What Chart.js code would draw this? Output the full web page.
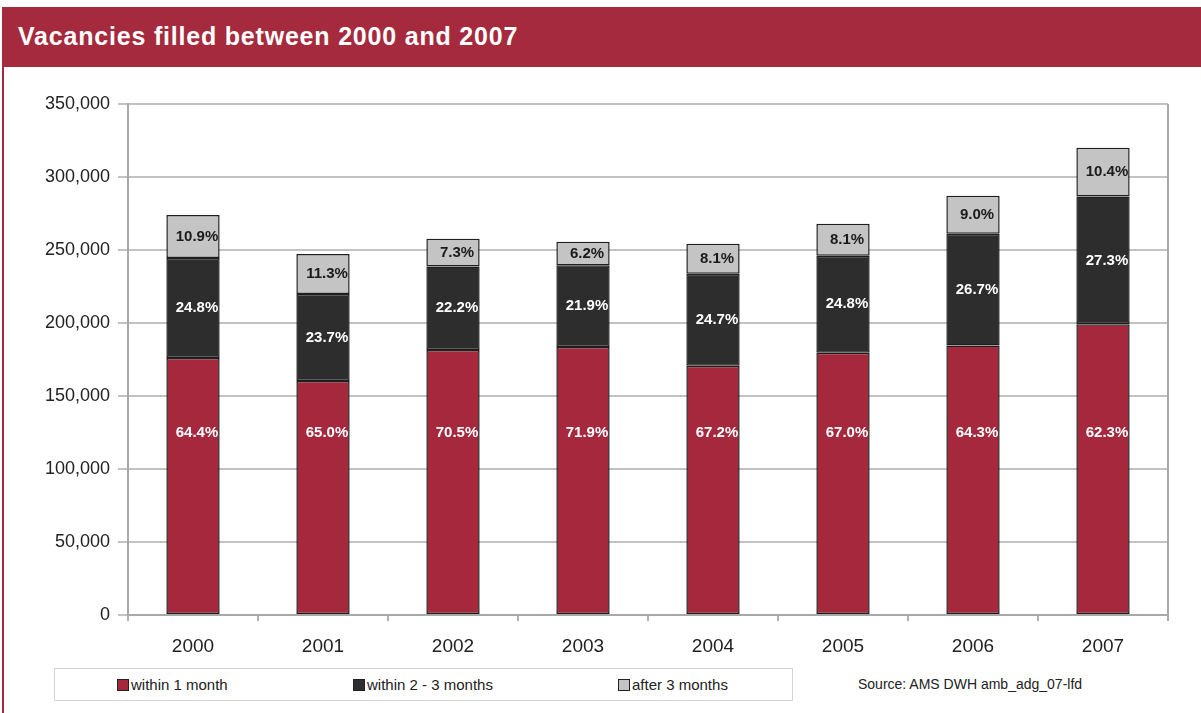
<!DOCTYPE html>
<html>
<head>
<meta charset="utf-8">
<script src="https://cdn.jsdelivr.net/npm/chart.js@4.4.1/dist/chart.umd.min.js"></script>
<style>
    body { margin: 0; width: 1201px; height: 713px; background: #fff; position: relative; overflow: hidden; font-family: "Liberation Sans", Arial, sans-serif; }
    #header { position: absolute; left: 2px; top: 7px; width: 1199px; height: 60px; background: #a52a3e; color: #fff; font-weight: bold; font-size: 25px; letter-spacing: 0.8px; line-height: 58px; padding-left: 16px; box-sizing: border-box; }
    #leftLine { position: absolute; left: 2px; top: 67px; width: 2px; height: 646px; background: #a52a3e; }
    #chartBox { position: absolute; left: 0; top: 66px; width: 1201px; height: 600px; }
    #legend { position: absolute; left: 54px; top: 668px; width: 739px; height: 33px; border: 1px solid #d4d4d4; box-sizing: border-box; font-size: 15px; color: #222; }
    .item { position: absolute; top: 0; line-height: 31px; white-space: nowrap; }
    .swatch { display: inline-block; width: 10px; height: 10px; border: 1px solid #222; margin-right: 2px; vertical-align: -1px; }
    #source { position: absolute; left: 858px; top: 676px; font-size: 14px; color: #222; }
</style>
</head>
<body>
<div id="header">Vacancies filled between 2000 and 2007</div>
<div id="leftLine"></div>
<div id="chartBox"><canvas id="vacancyChart"></canvas></div>
<div id="legend"></div>
<div id="source">Source: AMS DWH amb_adg_07-lfd</div>

<script>
// Chart data
const years = ['2000', '2001', '2002', '2003', '2004', '2005', '2006', '2007'];
const seriesNames = ['within 1 month', 'within 2 - 3 months', 'after 3 months'];
const within1Month = [176000, 160300, 181500, 183600, 170700, 179600, 184600, 199200];
const within2to3Months = [68500, 59600, 57200, 56000, 63000, 66500, 76600, 87400];
const after3Months = [29500, 27400, 19000, 16000, 20600, 21900, 25900, 33400];
const within1MonthPct = ['64.4%', '65.0%', '70.5%', '71.9%', '67.2%', '67.0%', '64.3%', '62.3%'];
const within2to3MonthsPct = ['24.8%', '23.7%', '22.2%', '21.9%', '24.7%', '24.8%', '26.7%', '27.3%'];
const after3MonthsPct = ['10.9%', '11.3%', '7.3%', '6.2%', '8.1%', '8.1%', '9.0%', '10.4%'];
const yTicks = [0, 50000, 100000, 150000, 200000, 250000, 300000, 350000];

const seriesColors = ['#a5283d', '#2d2d2d', '#c4c4c4'];
const labelColors = ['#ffffff', '#ffffff', '#1a1a1a'];
const pctLabels = [within1MonthPct, within2to3MonthsPct, after3MonthsPct];
const baseLabelValue = 125000; // red segment labels sit at this height

// Build the legend from the series
const legendX = [62, 298, 563];
const legendEl = document.getElementById('legend');
seriesNames.forEach((name, i) => {
    const item = document.createElement('div');
    item.className = 'item';
    item.style.left = legendX[i] + 'px';
    item.innerHTML = '<span class="swatch" style="background:' + seriesColors[i] + '"></span>' + name;
    legendEl.appendChild(item);
});

// Percentage labels inside the bars
const pctLabelPlugin = {
    id: 'pctLabels',
    afterDatasetsDraw(chart) {
        const ctx = chart.ctx;
        const yScale = chart.scales.y;
        ctx.save();
        ctx.font = 'bold 15px "Liberation Sans", Arial, sans-serif';
        ctx.textAlign = 'center';
        ctx.textBaseline = 'middle';
        chart.data.datasets.forEach((ds, i) => {
            const meta = chart.getDatasetMeta(i);
            meta.data.forEach((bar, j) => {
                const y = i === 0 ? yScale.getPixelForValue(baseLabelValue) : (bar.y + bar.base) / 2;
                ctx.fillStyle = labelColors[i];
                ctx.fillText(pctLabels[i][j], bar.x + 4, y);
            });
        });
        ctx.restore();
    }
};

// Right edge of the plot frame
const rightFramePlugin = {
    id: 'rightFrame',
    afterDraw(chart) {
        const a = chart.chartArea;
        const ctx = chart.ctx;
        ctx.save();
        ctx.strokeStyle = '#a8a8a8';
        ctx.lineWidth = 2;
        ctx.beginPath();
        ctx.moveTo(a.right, a.top);
        ctx.lineTo(a.right, a.bottom + 6);
        ctx.stroke();
        ctx.restore();
    }
};

const datasets = [within1Month, within2to3Months, after3Months].map((values, i) => ({
    label: seriesNames[i],
    data: values,
    backgroundColor: seriesColors[i],
    borderColor: '#1e1e1e',
    borderWidth: 1.5,
    borderSkipped: false,
    barPercentage: 0.41,
    categoryPercentage: 1
}));

const ctx = document.getElementById('vacancyChart').getContext('2d');
new Chart(ctx, {
    type: 'bar',
    data: {
        labels: years,
        datasets: datasets
    },
    options: {
        responsive: true,
        maintainAspectRatio: false,
        animation: false,
        layout: {
            padding: { top: 38, right: 33, left: 0, bottom: 0 }
        },
        plugins: {
            legend: { display: false },
            tooltip: { enabled: false }
        },
        scales: {
            x: {
                stacked: true,
                grid: {
                    drawOnChartArea: false,
                    drawTicks: true,
                    tickLength: 6,
                    color: '#b0b0b0',
                    lineWidth: 2
                },
                border: { display: true, color: '#a8a8a8', width: 2 },
                ticks: {
                    color: '#222',
                    padding: 14,
                    font: { family: '"Liberation Sans", Arial, sans-serif', size: 19 }
                },
                afterFit: scale => { scale.height = 51; }
            },
            y: {
                stacked: true,
                min: 0,
                max: 350000,
                afterBuildTicks: scale => { scale.ticks = yTicks.map(v => ({ value: v })); },
                grid: {
                    color: '#c2c2c2',
                    lineWidth: 2,
                    tickLength: 10
                },
                border: { display: true, color: '#a8a8a8', width: 2 },
                ticks: {
                    color: '#222',
                    padding: 8,
                    font: { family: '"Liberation Sans", Arial, sans-serif', size: 18 },
                    callback: value => value.toLocaleString('en-US')
                },
                afterFit: scale => { scale.width = 128; }
            }
        }
    },
    plugins: [pctLabelPlugin, rightFramePlugin]
});
</script>
</body>
</html>
